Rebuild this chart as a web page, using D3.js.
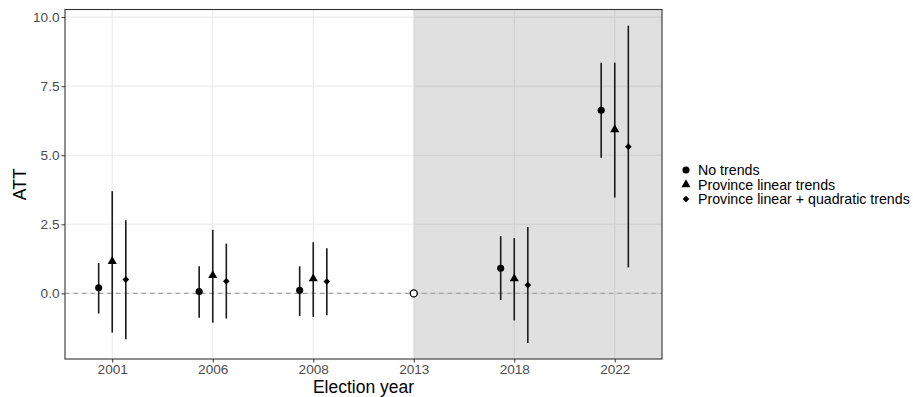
<!DOCTYPE html>
<html>
<head>
<meta charset="utf-8">
<script src="https://cdn.jsdelivr.net/npm/d3@7"></script>
<style>
  body { margin: 0; background: #fff; }
  text { font-family: "Liberation Sans", Arial, sans-serif; }
</style>
</head>
<body>
<div id="chart_div"></div>
<script>
// data
const years = ["2001", "2006", "2008", "2013", "2018", "2022"];
const series = ["No trends", "Province linear trends", "Province linear + quadratic trends"];
const yTicks = [0, 2.5, 5, 7.5, 10];

// 2013 is the reference year (no estimate)
const noTrendsEst = [0.2, 0.07, 0.11, null, 0.91, 6.63];
const noTrendsLo  = [-0.73, -0.88, -0.82, null, -0.24, 4.91];
const noTrendsHi  = [1.1, 0.98, 0.98, null, 2.07, 8.35];

const linearEst = [1.16, 0.65, 0.53, null, 0.53, 5.93];
const linearLo  = [-1.42, -1.06, -0.85, null, -0.98, 3.47];
const linearHi  = [3.7, 2.3, 1.85, null, 2.0, 8.35];

const quadEst = [0.5, 0.44, 0.43, null, 0.3, 5.31];
const quadLo  = [-1.66, -0.91, -0.79, null, -1.8, 0.94];
const quadHi  = [2.65, 1.8, 1.63, null, 2.4, 9.69];

const refYear = "2013", refValue = 0;

const width = 913, height = 397;
const margin = {top: 9.5, right: 251, bottom: 38, left: 65};
const plot_w = width - margin.left - margin.right,
      plot_h = height - margin.top - margin.bottom;

const svg = d3.select("#chart_div")
  .append("svg")
    .attr("width", width)
    .attr("height", height);

const g = svg.append("g")
    .attr("transform", `translate(${margin.left}, ${margin.top})`);

// x is discrete in the original; positions 1..6 with padding
const x = d3.scaleLinear()
  .domain([0.53, 6.47])
  .range([0, plot_w]);
const xPos = yr => x(years.indexOf(yr) + 1);

const y = d3.scaleLinear()
  .domain([-2.375, 10.275])
  .range([plot_h, 0]);

const dodge = [-0.135, 0, 0.135];

// gridlines
g.append("g").selectAll("line")
  .data(yTicks)
  .join("line")
    .attr("x1", 0).attr("x2", plot_w)
    .attr("y1", d => y(d)).attr("y2", d => y(d))
    .attr("stroke", "#ebebeb").attr("stroke-width", 1.1);
g.append("g").selectAll("line")
  .data(years)
  .join("line")
    .attr("x1", d => xPos(d)).attr("x2", d => xPos(d))
    .attr("y1", 0).attr("y2", plot_h)
    .attr("stroke", "#ebebeb").attr("stroke-width", 1.1);

// shaded post-period
g.append("rect")
  .attr("x", xPos(refYear))
  .attr("y", 0)
  .attr("width", plot_w - xPos(refYear))
  .attr("height", plot_h)
  .attr("fill", "#000")
  .attr("fill-opacity", 0.12);

// zero line
g.append("line")
  .attr("x1", 0).attr("x2", plot_w)
  .attr("y1", y(0)).attr("y2", y(0))
  .attr("stroke", "#a3a3a3")
  .attr("stroke-width", 1.1)
  .attr("stroke-dasharray", "4.5,4");

// build rows for points
const groups = [
  {key: series[0], est: noTrendsEst, lo: noTrendsLo, hi: noTrendsHi},
  {key: series[1], est: linearEst, lo: linearLo, hi: linearHi},
  {key: series[2], est: quadEst, lo: quadLo, hi: quadHi}
];
const rows = [];
groups.forEach((grp, gi) => {
  years.forEach((yr, i) => {
    if (grp.est[i] === null) return;
    rows.push({key: grp.key, gi: gi, px: years.indexOf(yr) + 1 + dodge[gi],
               est: grp.est[i], lo: grp.lo[i], hi: grp.hi[i]});
  });
});

const symbolFor = [
  d3.symbol().type(d3.symbolCircle).size(40),
  d3.symbol().type(d3.symbolTriangle).size(36),
  d3.symbol().type(d3.symbolSquare).size(22)
];
const rotFor = [0, 0, 45];

// error bars
g.append("g").selectAll("line")
  .data(rows)
  .join("line")
    .attr("x1", d => x(d.px)).attr("x2", d => x(d.px))
    .attr("y1", d => y(d.lo)).attr("y2", d => y(d.hi))
    .attr("stroke", "#1a1a1a")
    .attr("stroke-width", 1.6);

// points
g.append("g").selectAll("path")
  .data(rows)
  .join("path")
    .attr("d", d => symbolFor[d.gi]())
    .attr("transform", d => `translate(${x(d.px)}, ${y(d.est)}) rotate(${rotFor[d.gi]})`)
    .attr("fill", "#000");

// reference point
g.append("circle")
  .attr("cx", xPos(refYear))
  .attr("cy", y(refValue))
  .attr("r", 3.5)
  .attr("fill", "#fff")
  .attr("stroke", "#000")
  .attr("stroke-width", 1.3);

// panel border
g.append("rect")
  .attr("width", plot_w).attr("height", plot_h)
  .attr("fill", "none")
  .attr("stroke", "#333")
  .attr("stroke-width", 1.1);

// y axis
const yAxis = g.append("g")
  .call(d3.axisLeft(y).tickValues(yTicks).tickSize(3.5).tickPadding(2).tickFormat(d3.format(".1f")));
yAxis.select(".domain").remove();
yAxis.selectAll(".tick line").attr("stroke", "#333");
yAxis.selectAll(".tick text").attr("fill", "#4d4d4d").style("font-size", "13.6px");

// x axis
const xAxis = g.append("g")
  .attr("transform", `translate(0, ${plot_h})`)
  .call(d3.axisBottom(x).tickValues(d3.range(1, years.length + 1)).tickSize(3.5).tickPadding(2)
        .tickFormat(d => years[d - 1]));
xAxis.select(".domain").remove();
xAxis.selectAll(".tick line").attr("stroke", "#333");
xAxis.selectAll(".tick text").attr("fill", "#4d4d4d").style("font-size", "13.6px");

// axis titles
svg.append("text")
  .attr("x", margin.left + plot_w / 2)
  .attr("y", 393)
  .attr("text-anchor", "middle")
  .style("font-size", "17.5px")
  .text("Election year");

svg.append("text")
  .attr("transform", `translate(26, ${margin.top + plot_h / 2}) rotate(-90)`)
  .attr("text-anchor", "middle")
  .style("font-size", "17.5px")
  .text("ATT");

// legend
const legend = svg.append("g")
  .attr("transform", "translate(686, 170)");
const legendRows = legend.selectAll("g")
  .data(series)
  .join("g")
    .attr("transform", (d, i) => `translate(0, ${i * 14.5})`);
legendRows.append("path")
  .attr("d", (d, i) => symbolFor[i]())
  .attr("transform", (d, i) => `rotate(${rotFor[i]})`)
  .attr("fill", "#000");
legendRows.append("text")
  .attr("x", 12)
  .attr("y", 5)
  .style("font-size", "14.2px")
  .text(d => d);
</script>
</body>
</html>
